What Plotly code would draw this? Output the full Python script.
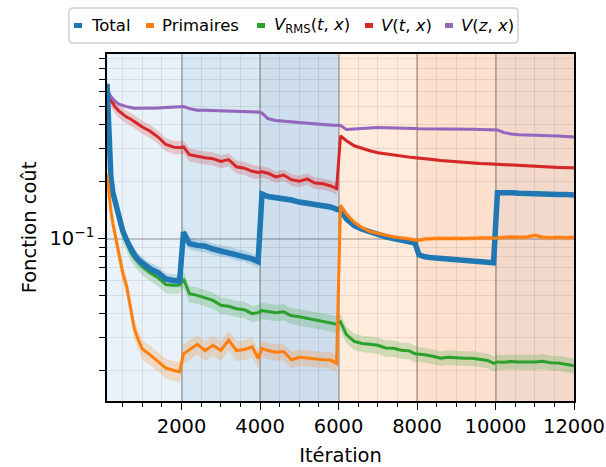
import math
import plotly.graph_objects as go

# ---------------- data ----------------
ITER = [100, 150, 200, 250, 300, 400, 500, 600, 700, 800, 900, 1000,
        1200, 1400, 1600, 1800, 1950, 2050,
        2200, 2400, 2600, 2800, 3000, 3200, 3400, 3600, 3800, 3950, 4050,
        4200, 4400, 4600, 4800, 5000, 5200, 5400, 5600, 5800, 5950, 6050,
        6200, 6400, 6600, 6800, 7000, 7200, 7400, 7600, 7800, 7950, 8050,
        8200, 8400, 8600, 8800, 9000, 9200, 9400, 9600, 9800, 9950, 10050,
        10200, 10400, 10600, 10800, 11000, 11200, 11400, 11600, 11800, 12000]

total = [0.66, 0.30, 0.21, 0.175, 0.16, 0.13, 0.11, 0.098, 0.088, 0.082, 0.077, 0.074,
         0.069, 0.066, 0.061, 0.060, 0.0595, 0.108,
         0.094, 0.092, 0.091, 0.088, 0.086, 0.085, 0.082, 0.081, 0.078, 0.0755, 0.172,
         0.167, 0.165, 0.163, 0.160, 0.156, 0.154, 0.152, 0.150, 0.147, 0.143, 0.141,
         0.127, 0.117, 0.112, 0.108, 0.104, 0.102, 0.100, 0.098, 0.096, 0.0945, 0.082,
         0.080, 0.079, 0.0785, 0.078, 0.077, 0.0768, 0.076, 0.0755, 0.075, 0.0745, 0.175,
         0.176, 0.175, 0.174, 0.173, 0.173, 0.172, 0.172, 0.171, 0.171, 0.170]

primaires = [0.22, 0.17, 0.14, 0.12, 0.106, 0.082, 0.066, 0.056, 0.043, 0.033, 0.029, 0.026,
             0.0242, 0.0222, 0.0206, 0.0200, 0.0197, 0.0245,
             0.0258, 0.0275, 0.0255, 0.0272, 0.0255, 0.0290, 0.0255, 0.0258, 0.0267, 0.0232, 0.0262,
             0.0255, 0.0250, 0.0252, 0.0228, 0.0235, 0.0233, 0.0230, 0.0228, 0.0227, 0.0218, 0.150,
             0.135, 0.122, 0.114, 0.109, 0.106, 0.104, 0.102, 0.101, 0.0995, 0.098, 0.098,
             0.0995, 0.100, 0.1005, 0.100, 0.1005, 0.100, 0.1005, 0.1005, 0.101, 0.1005, 0.101,
             0.101, 0.102, 0.1015, 0.102, 0.104, 0.1015, 0.101, 0.1015, 0.101, 0.1015]

v_rms = [0.64, 0.29, 0.205, 0.17, 0.155, 0.127, 0.107, 0.095, 0.085, 0.079, 0.0745, 0.071,
         0.066, 0.062, 0.057, 0.0565, 0.0568, 0.061,
         0.051, 0.050, 0.0485, 0.047, 0.0443, 0.0438, 0.0425, 0.042, 0.040, 0.0405, 0.0415,
         0.0412, 0.0405, 0.0409, 0.039, 0.0385, 0.0378, 0.037, 0.0362, 0.0355, 0.0352, 0.0362,
         0.031, 0.0285, 0.0278, 0.0275, 0.0272, 0.0263, 0.0262, 0.0256, 0.0254, 0.0245, 0.0244,
         0.0242, 0.0238, 0.0232, 0.0235, 0.0233, 0.0232, 0.0232, 0.0230, 0.0226, 0.0218, 0.0222,
         0.0221, 0.0223, 0.0222, 0.0221, 0.0222, 0.0224, 0.0220, 0.0219, 0.0215, 0.0212]

v_tx = [0.585, 0.56, 0.54, 0.52, 0.50, 0.475, 0.455, 0.44, 0.43, 0.415, 0.40, 0.39,
        0.37, 0.345, 0.315, 0.305, 0.303, 0.306,
        0.278, 0.272, 0.268, 0.265, 0.256, 0.262, 0.240, 0.236, 0.227, 0.224, 0.226,
        0.222, 0.212, 0.217, 0.205, 0.201, 0.207, 0.197, 0.195, 0.190, 0.184, 0.35,
        0.33, 0.31, 0.30, 0.292, 0.285, 0.281, 0.276, 0.272, 0.270, 0.268, 0.267,
        0.264, 0.262, 0.259, 0.257, 0.254, 0.252, 0.251, 0.250, 0.249, 0.248, 0.247,
        0.246, 0.244, 0.242, 0.241, 0.240, 0.240, 0.239, 0.238, 0.238, 0.237]

v_zx = [0.62, 0.59, 0.565, 0.55, 0.535, 0.515, 0.505, 0.50, 0.495, 0.49, 0.49, 0.49,
        0.49, 0.492, 0.495, 0.497, 0.503, 0.500,
        0.488, 0.478, 0.478, 0.477, 0.476, 0.475, 0.474, 0.472, 0.470, 0.468, 0.462,
        0.432, 0.422, 0.418, 0.414, 0.410, 0.407, 0.404, 0.402, 0.399, 0.397, 0.397,
        0.378, 0.381, 0.384, 0.386, 0.387, 0.386, 0.386, 0.385, 0.384, 0.383, 0.382,
        0.382, 0.381, 0.381, 0.380, 0.379, 0.379, 0.379, 0.378, 0.378, 0.377, 0.376,
        0.365, 0.358, 0.355, 0.353, 0.352, 0.351, 0.350, 0.349, 0.347, 0.345]

# relative spread (std / value) per training stage (6 stages)
spread_total = [0.08, 0.07, 0.035, 0.02, 0.02, 0.015]
spread_prim = [0.12, 0.12, 0.10, 0.03, 0.03, 0.03]
spread_rms = [0.10, 0.10, 0.10, 0.10, 0.09, 0.09]
spread_tx = [0.08, 0.08, 0.07, 0.02, 0.02, 0.02]
spread_zx = [0.02, 0.02, 0.02, 0.015, 0.015, 0.015]

STAGE_EDGES = [100, 2000, 4000, 6000, 8000, 10000, 12000]
STAGE_COLORS = ["#eaf2f9", "#d8e8f3", "#cedeed", "#feebdc", "#fde0cd", "#f3d9cb"]

NAMES = ["Total", "Primaires",
         "<i>V</i><sub>RMS</sub>(<i>t</i>, <i>x</i>)",
         "<i>V</i>(<i>t</i>, <i>x</i>)",
         "<i>V</i>(<i>z</i>, <i>x</i>)"]
COLORS = ["#1f77b4", "#ff7f0e", "#2ca02c", "#d62728", "#9467bd"]
SERIES = [total, primaires, v_rms, v_tx, v_zx]
SPREADS = [spread_total, spread_prim, spread_rms, spread_tx, spread_zx]
WIDTHS = [5.5, 3, 3, 3, 3]
DRAW_ORDER = [2, 3, 4, 0, 1]   # green, red, purple, total, primaires

X_TICKS = [2000, 4000, 6000, 8000, 10000, 12000]
X_TICK_TEXT = [str(v) for v in X_TICKS]
Y_TICKS = [0.1]
Y_TICK_TEXT = ["10<sup>\u22121</sup>"]
Y_MINOR = [0.02, 0.03, 0.04, 0.05, 0.06, 0.07, 0.08, 0.09,
           0.2, 0.3, 0.4, 0.5, 0.6, 0.7, 0.8, 0.9]

# ---------------- layout geometry (pixels) ----------------
W, H = 606, 467
ML, MR, MT, MB = 107, 32, 54, 66
PW, PH = W - ML - MR, H - MT - MB


def px_x(px):
    return (px - ML) / PW


def px_y(py):
    return (H - MB - py) / PH


def rgba(hexc, a):
    h = hexc.lstrip("#")
    return f"rgba({int(h[0:2],16)},{int(h[2:4],16)},{int(h[4:6],16)},{a})"


def stage_of(x):
    return sum(1 for b in STAGE_EDGES[1:-1] if x > b)


fig = go.Figure()

# shaded bands
for vals, sp, col in zip(SERIES, SPREADS, COLORS):
    lo = [v * (1 - sp[stage_of(x)]) for x, v in zip(ITER, vals)]
    hi = [v * (1 + sp[stage_of(x)]) for x, v in zip(ITER, vals)]
    fig.add_trace(go.Scatter(x=ITER, y=lo, mode="lines", line=dict(width=0),
                             showlegend=False, hoverinfo="skip"))
    fig.add_trace(go.Scatter(x=ITER, y=hi, mode="lines", line=dict(width=0),
                             fill="tonexty", fillcolor=rgba(col, 0.22),
                             showlegend=False, hoverinfo="skip"))

# lines
for i in DRAW_ORDER:
    fig.add_trace(go.Scatter(x=ITER, y=SERIES[i], mode="lines", name=NAMES[i],
                             line=dict(color=COLORS[i], width=WIDTHS[i]),
                             showlegend=False))

# stage backgrounds
for i, c in enumerate(STAGE_COLORS):
    fig.add_shape(type="rect", xref="x", yref="paper",
                  x0=STAGE_EDGES[i], x1=STAGE_EDGES[i + 1], y0=0, y1=1,
                  fillcolor=c, line=dict(width=0), layer="below")

# ---------------- manual legend (matplotlib-like, one row) ----------------
LEG_L, LEG_R, LEG_T, LEG_B, RAD = 69, 518, 8, 43, 4
x0, x1 = px_x(LEG_L), px_x(LEG_R)
y0, y1 = px_y(LEG_B), px_y(LEG_T)
rx, ry = RAD / PW, RAD / PH
path = (f"M {x0+rx},{y1} L {x1-rx},{y1} Q {x1},{y1} {x1},{y1-ry} "
        f"L {x1},{y0+ry} Q {x1},{y0} {x1-rx},{y0} L {x0+rx},{y0} "
        f"Q {x0},{y0} {x0},{y0+ry} L {x0},{y1-ry} Q {x0},{y1} {x0+rx},{y1} Z")
fig.add_shape(type="path", path=path, xref="paper", yref="paper",
              fillcolor="rgba(255,255,255,0.85)", line=dict(color="#d0d0d0", width=1.5),
              layer="above")

SYM_LEFT = [74, 146, 257, 365, 445]
TXT_LEFT = [89, 160, 272, 379, 459]
LEG_CY = 25.5
for name, col, sx, tx in zip(NAMES, COLORS, SYM_LEFT, TXT_LEFT):
    fig.add_shape(type="rect", xref="paper", yref="paper",
                  x0=px_x(sx), x1=px_x(sx + 8),
                  y0=px_y(LEG_CY + 2.5), y1=px_y(LEG_CY - 2.5),
                  fillcolor=col, line=dict(width=0), layer="above")
    fig.add_annotation(text=name, xref="paper", yref="paper",
                       x=px_x(tx), y=px_y(LEG_CY), xanchor="left", yanchor="middle",
                       showarrow=False,
                       font=dict(family="DejaVu Sans", size=16.5, color="black"))

axis_font = dict(family="DejaVu Sans", size=19.5, color="black")

fig.update_layout(
    width=W, height=H,
    margin=dict(l=ML, r=MR, t=MT, b=MB, autoexpand=False),
    plot_bgcolor="white", paper_bgcolor="white",
    font=dict(family="DejaVu Sans", color="black"),
    showlegend=False,
    xaxis=dict(
        range=[100, 12000], tickvals=X_TICKS, ticktext=X_TICK_TEXT,
        ticks="outside", ticklen=7, tickwidth=1.2, tickcolor="black",
        tickfont=axis_font,
        showline=True, linecolor="black", linewidth=1.5, mirror=True,
        showgrid=True, gridcolor="rgba(0,0,0,0.22)", gridwidth=1.5,
        zeroline=False,
        title=dict(text="Itération", font=axis_font, standoff=12),
        minor=dict(dtick=500, tick0=0, ticks="outside", ticklen=4,
                   tickcolor="black", tickwidth=1,
                   showgrid=True, gridcolor="rgba(0,0,0,0.08)", gridwidth=1.2),
    ),
    yaxis=dict(
        type="log", range=[math.log10(0.01378), math.log10(0.95)],
        tickvals=Y_TICKS, ticktext=Y_TICK_TEXT,
        ticks="outside", ticklen=7, tickwidth=1.2, tickcolor="black",
        tickfont=axis_font,
        showline=True, linecolor="black", linewidth=1.5, mirror=True,
        showgrid=True, gridcolor="rgba(0,0,0,0.2)", gridwidth=1.5,
        zeroline=False,
        title=dict(text="Fonction coût", font=axis_font, standoff=8),
        minor=dict(tickmode="array", tickvals=Y_MINOR, ticks="outside",
                   ticklen=6, tickcolor="black", tickwidth=1,
                   showgrid=True, gridcolor="rgba(0,0,0,0.08)", gridwidth=1.2),
    ),
)

fig.write_html("out.html")
